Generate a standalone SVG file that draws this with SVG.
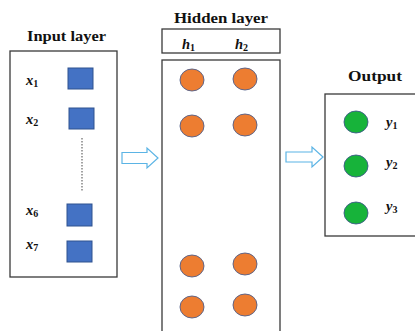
<svg xmlns="http://www.w3.org/2000/svg" width="415" height="331" viewBox="0 0 415 331">
<style>
.box{fill:#fff;stroke:#3a3a3a;stroke-width:1.3}
.title{font-family:"Liberation Serif",serif;font-weight:bold;font-size:15px;fill:#111}
.var{font-family:"Liberation Serif",serif;font-weight:bold;font-style:italic;font-size:14.5px;fill:#111}
.sub{font-size:10px;font-style:normal}
.sq{fill:#4472C4;stroke:#2F528F;stroke-width:1}
.hn{fill:#ED7D31;stroke:#4F5D8A;stroke-width:0.9}
.on{fill:#17B33A;stroke:#3E5A8A;stroke-width:0.9}
.arr{fill:#fff;stroke:#5BB4E5;stroke-width:1.2}
</style>
<rect width="415" height="331" fill="#fff"/>
<g id="input-layer">
<text class="title" x="27" y="41" textLength="79" lengthAdjust="spacingAndGlyphs">Input layer</text>
<rect class="box" x="10" y="51" width="107" height="226"/>
<text class="var" x="26" y="85">x<tspan class="sub" dy="2">1</tspan></text>
<text class="var" x="26" y="124">x<tspan class="sub" dy="2">2</tspan></text>
<text class="var" x="26" y="215">x<tspan class="sub" dy="2">6</tspan></text>
<text class="var" x="26" y="249">x<tspan class="sub" dy="2">7</tspan></text>
<rect class="sq" x="68" y="68" width="25" height="21"/>
<rect class="sq" x="69" y="108" width="25" height="21"/>
<rect class="sq" x="67" y="204" width="25" height="22"/>
<rect class="sq" x="67" y="241" width="25" height="21"/>
<line x1="82" y1="138" x2="82" y2="192" stroke="#666" stroke-width="1.2" stroke-dasharray="1.5,1.5"/>
</g>
<g id="hidden-layer">
<text class="title" x="174" y="23" textLength="94" lengthAdjust="spacingAndGlyphs">Hidden layer</text>
<rect class="box" x="162" y="29" width="118" height="24"/>
<text class="var" x="182" y="49">h<tspan class="sub" dy="2">1</tspan></text>
<text class="var" x="235" y="49">h<tspan class="sub" dy="2">2</tspan></text>
<rect class="box" x="162" y="60" width="118" height="280"/>
<ellipse class="hn" cx="192" cy="80" rx="12" ry="11"/>
<ellipse class="hn" cx="245" cy="79" rx="12" ry="11"/>
<ellipse class="hn" cx="192" cy="126" rx="12" ry="11"/>
<ellipse class="hn" cx="245" cy="125" rx="12" ry="11"/>
<ellipse class="hn" cx="192" cy="266" rx="12" ry="11"/>
<ellipse class="hn" cx="245" cy="264" rx="12" ry="11"/>
<ellipse class="hn" cx="192" cy="307" rx="12" ry="11"/>
<ellipse class="hn" cx="245" cy="305" rx="12" ry="11"/>
</g>
<g id="output-layer">
<text class="title" x="348" y="81" textLength="54" lengthAdjust="spacingAndGlyphs">Output</text>
<rect class="box" x="325" y="94" width="100" height="142"/>
<ellipse class="on" cx="356" cy="122" rx="12" ry="11"/>
<ellipse class="on" cx="356" cy="166" rx="12" ry="11"/>
<ellipse class="on" cx="356" cy="213" rx="12" ry="11"/>
<text class="var" x="386" y="127">y<tspan class="sub" dy="2">1</tspan></text>
<text class="var" x="386" y="167">y<tspan class="sub" dy="2">2</tspan></text>
<text class="var" x="386" y="211">y<tspan class="sub" dy="2">3</tspan></text>
</g>
<g id="connectors">
<polygon class="arr" points="122,152.5 147,152.5 147,148 158,158 147,168 147,163.5 122,163.5"/>
<polygon class="arr" points="286,152 312,152 312,147 323,157 312,167 312,162 286,162"/>
</g>
</svg>
